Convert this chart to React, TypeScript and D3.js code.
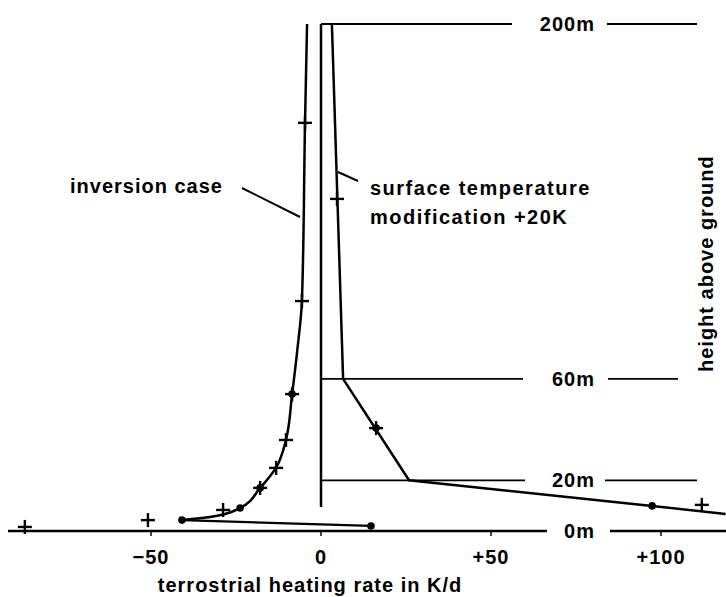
import React from "react";
import * as d3 from "d3";

// Heating-rate profiles (K/d) against height above ground (m)
const inversionHeight = [200, 161, 91, 71, 54, 36, 25, 17, 9.1, 5.5, 4.3];
const inversionRate = [-4.1, -4.7, -5.6, -7.0, -8.5, -10.3, -13.2, -17.9, -23.8, -32.6, -40.9];
// lowest level of the inversion case, joined straight to the level above
const inversionSurfaceHeight = [4.3, 2.0];
const inversionSurfaceRate = [-40.9, 14.7];

const modHeight = [200, 60, 20, 9.9, 6.7];
const modRate = [3.2, 6.5, 25.9, 97.4, 119];

// model levels marked with dots
const dotHeight = [54, 17, 9.1, 4.3, 2.0, 40.6, 9.9];
const dotRate = [-8.5, -17.9, -23.8, -40.9, 14.7, 16.2, 97.4];

// comparison values marked with crosses
const plusHeight = [161, 90.7, 54, 35.9, 24.9, 17, 8.3, 4.3, 1.6, 131, 40.6, 10.3];
const plusRate = [-4.7, -5.6, -8.5, -10.3, -13.2, -17.9, -28.8, -50.9, -87.1, 4.7, 16.2, 112];

const xTicks = [-50, 0, 50, 100];
const xTickLabels = ["\u221250", "0", "+50", "+100"];
const levelHeights = [200, 60, 20, 0];
const levelLabels = ["200m", "60m", "20m", "0m"];

// zero line runs from the top level down to this height
const zeroLineHeights = [200, 9.5];

const W = 726;
const H = 597;
const FONT = "'Liberation Sans', Arial, Helvetica, sans-serif";

// where the horizontal level lines break around their labels
const levelLayout = [
  { leftStart: 321, leftEnd: 512, rightStart: 607, rightEnd: 697 },
  { leftStart: 321, leftEnd: 523, rightStart: 608, rightEnd: 678 },
  { leftStart: 321, leftEnd: 525, rightStart: 605, rightEnd: 697 },
  { leftStart: 8, leftEnd: 547, rightStart: 610, rightEnd: 726 },
];

export default function App() {
  const x = d3.scaleLinear().domain([-50, 100]).range([151, 661]);
  const y = d3.scaleLinear().domain([0, 200]).range([531, 24]);

  const smooth = d3
    .line<number>()
    .x((i) => x(inversionRate[i]))
    .y((i) => y(inversionHeight[i]))
    .curve(d3.curveMonotoneY);
  const straight = (rates: number[], heights: number[]) =>
    d3
      .line<number>()
      .x((i) => x(rates[i]))
      .y((i) => y(heights[i]))(rates.map((_, i) => i)) || "";

  const textStyle = {
    fontFamily: FONT,
    fontWeight: 700,
    fontSize: 20,
    letterSpacing: 1,
    fill: "#000",
  } as React.CSSProperties;

  return (
    <svg
      width={W}
      height={H}
      viewBox={`0 0 ${W} ${H}`}
      style={{ position: "absolute", left: 0, top: 0, background: "#fff" }}
    >
      <rect width={W} height={H} fill="#fff" />

      {/* height levels with their labels */}
      {levelHeights.map((h, i) => {
        const L = levelLayout[i];
        const yy = y(h);
        const sw = h === 0 ? 2.5 : 1.8;
        return (
          <g key={h}>
            <line x1={L.leftStart} x2={L.leftEnd} y1={yy} y2={yy} stroke="#000" strokeWidth={sw} />
            <line x1={L.rightStart} x2={L.rightEnd} y1={yy} y2={yy} stroke="#000" strokeWidth={sw} />
            <text x={595} y={yy + 7} textAnchor="end" style={textStyle}>
              {levelLabels[i]}
            </text>
          </g>
        );
      })}

      {/* x ticks and labels */}
      {xTicks.map((t, i) => (
        <g key={t}>
          <line x1={x(t)} x2={x(t)} y1={y(0)} y2={y(0) + 5} stroke="#000" strokeWidth={1.5} />
          <text x={x(t)} y={564} textAnchor="middle" style={textStyle}>
            {xTickLabels[i]}
          </text>
        </g>
      ))}

      {/* zero line */}
      <line
        x1={x(0)}
        x2={x(0)}
        y1={y(zeroLineHeights[0])}
        y2={y(zeroLineHeights[1])}
        stroke="#000"
        strokeWidth={2.5}
      />

      {/* inversion case */}
      <path d={smooth(inversionRate.map((_, i) => i)) || ""} fill="none" stroke="#000" strokeWidth={2.5} />
      <path d={straight(inversionSurfaceRate, inversionSurfaceHeight)} fill="none" stroke="#000" strokeWidth={2.2} />

      {/* surface temperature modification */}
      <path d={straight(modRate, modHeight)} fill="none" stroke="#000" strokeWidth={2.5} />

      {dotRate.map((r, i) => (
        <circle key={`d${i}`} cx={x(r)} cy={y(dotHeight[i])} r={3.8} fill="#000" />
      ))}
      {plusRate.map((r, i) => {
        const cx = x(r);
        const cy = y(plusHeight[i]);
        return (
          <g key={`p${i}`} stroke="#000" strokeWidth={2.4}>
            <line x1={cx - 7} x2={cx + 7} y1={cy} y2={cy} />
            <line x1={cx} x2={cx} y1={cy - 7} y2={cy + 7} />
          </g>
        );
      })}

      {/* curve annotations */}
      <text x={70} y={193} style={textStyle}>inversion case</text>
      <line x1={242} y1={188} x2={300} y2={217} stroke="#000" strokeWidth={2} />
      <text x={370} y={195} style={{ ...textStyle, letterSpacing: 1.5 }}>surface temperature</text>
      <text x={370} y={224} style={{ ...textStyle, letterSpacing: 1.5 }}>modification +20K</text>
      <line x1={338} y1={172} x2={358} y2={181} stroke="#000" strokeWidth={2} />

      {/* axis titles */}
      <text x={310} y={592} textAnchor="middle" style={textStyle}>
        terrostrial heating rate in K/d
      </text>
      <text
        transform="translate(713,372) rotate(-90)"
        textAnchor="start"
        style={textStyle}
      >
        height above ground
      </text>
    </svg>
  );
}
